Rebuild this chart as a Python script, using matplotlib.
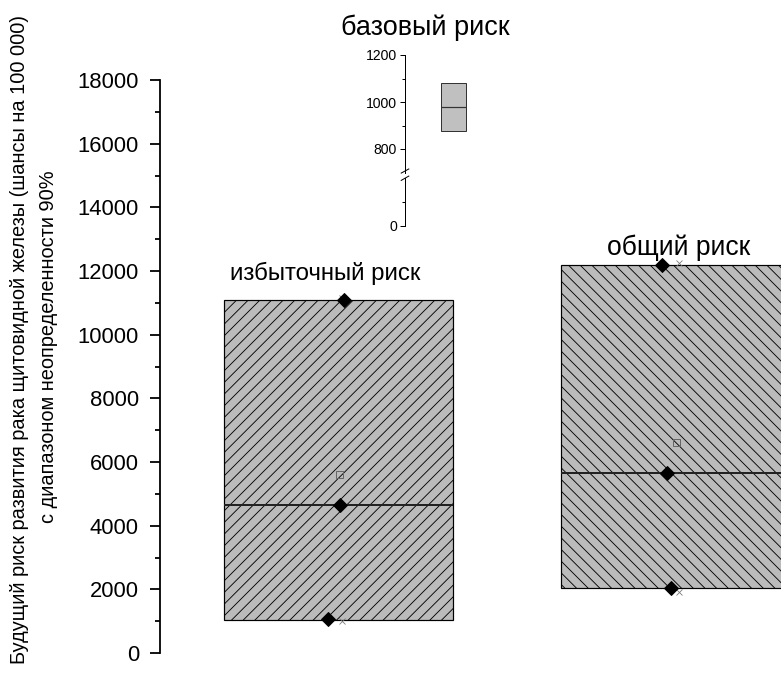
import matplotlib
matplotlib.use('Agg')
import matplotlib.pyplot as plt
from matplotlib.ticker import MultipleLocator, FixedLocator

plt.rcParams['font.family'] = ['Liberation Sans', 'DejaVu Sans']
plt.rcParams['hatch.linewidth'] = 0.9

# данные
groups = ['избыточный риск', 'общий риск']
box_low = [1040, 2040]
box_high = [11090, 12190]
box_median = [4650, 5655]
box_mean = [5620, 6630]
point_values = [[11090, 4650, 1070], [12190, 5650, 2040]]
point_shift = [[0.015, 0.005, -0.03], [-0.04, -0.025, -0.012]]
extreme_values = [[11150, 1005], [12250, 1915]]

base_title = 'базовый риск'
base_low = 877
base_high = 1081
base_median = 979

ylabel_1 = 'Будущий риск развития рака щитовидной железы (шансы на 100 000)'
ylabel_2 = 'с диапазоном неопределенности 90%'

# размеры в пикселях
W, H, DPI = 781, 673, 70


def pt(v):
    # пиксели -> пункты
    return v * 72 / DPI


def rect(left, top, right, bottom):
    return [left / W, 1 - bottom / H, (right - left) / W, (bottom - top) / H]


fig = plt.figure(figsize=(W / DPI, H / DPI), dpi=DPI)

# основная ось
ax = fig.add_axes(rect(160, 80, 781, 653))
ax.patch.set_alpha(0)
positions = [1, 2]
width = 0.68
hatches = ['//', '\\\\']
heights = [h - l for h, l in zip(box_high, box_low)]
bars = ax.bar(positions, heights, bottom=box_low, width=width, color='#bbbbbb',
              edgecolor='black', linewidth=pt(1.2), zorder=2)
for b, h in zip(bars, hatches):
    b.set_hatch(h)

for p, m in zip(positions, box_median):
    ax.hlines(m, p - width / 2, p + width / 2, color='#222222', linewidth=pt(2), zorder=3)

ax.plot(positions, box_mean, 's', mfc='none', mec='#666666', mew=pt(1), ms=pt(7), zorder=4)

for p, vals in zip(positions, extreme_values):
    ax.plot([p + 0.01] * len(vals), vals, 'x', color='#777777', ms=pt(6), mew=pt(0.8), zorder=4)

for p, vals, sh in zip(positions, point_values, point_shift):
    ax.plot([p + s for s in sh], vals, 'D', color='black', ms=pt(9.5), zorder=5)

ax.set_xlim(0.47, 2.313)
ax.set_ylim(0, 18000)
ax.yaxis.set_major_locator(MultipleLocator(2000))
ax.yaxis.set_minor_locator(MultipleLocator(1000))
for s in ['top', 'right', 'bottom']:
    ax.spines[s].set_visible(False)
ax.spines['left'].set_linewidth(pt(1.8))
ax.set_xticks([])
ax.tick_params(axis='y', which='major', direction='out', length=pt(10), width=pt(1.8),
               pad=pt(11), labelsize=pt(22))
ax.tick_params(axis='y', which='minor', direction='out', length=pt(5), width=pt(1.8))

# подписи групп
fig.text(325 / W, 1 - 280 / H, groups[0], ha='center', va='baseline', fontsize=pt(24))
fig.text(679 / W, 1 - 255 / H, groups[1], ha='center', va='baseline', fontsize=pt(26.5))
fig.text(425 / W, 1 - 35 / H, base_title, ha='center', va='baseline', fontsize=pt(27))

# вставка с разрывом оси
ax_top = fig.add_axes(rect(405, 55, 500, 172.5))
ax_bot = fig.add_axes(rect(405, 178, 500, 226))
for a in (ax_top, ax_bot):
    a.patch.set_alpha(0)
    for s in ['top', 'right', 'bottom']:
        a.spines[s].set_visible(False)
    a.spines['left'].set_linewidth(pt(1))
    a.set_xticks([])
    a.set_xlim(0, 1)
    a.tick_params(axis='y', which='major', direction='out', length=pt(5), width=pt(1),
                  pad=pt(3), labelsize=pt(14))
    a.tick_params(axis='y', which='minor', direction='out', length=pt(3), width=pt(1))

ax_top.set_ylim(700, 1200)
ax_top.yaxis.set_major_locator(FixedLocator([800, 1000, 1200]))
ax_top.yaxis.set_minor_locator(FixedLocator([900, 1100]))
ax_bot.set_ylim(0, 200)
ax_bot.yaxis.set_major_locator(FixedLocator([0]))
ax_bot.yaxis.set_minor_locator(FixedLocator([100]))

ax_top.bar([0.51], [base_high - base_low], bottom=[base_low], width=0.263, color='#c0c0c0',
           edgecolor='#333333', linewidth=pt(1))
ax_top.hlines(base_median, 0.51 - 0.1315, 0.51 + 0.1315, color='#333333', linewidth=pt(1.2))

# значки разрыва
kw = dict(color='black', linewidth=pt(1), clip_on=False)
ax_top.plot([-0.04, 0.04], [-0.005, 0.03], transform=ax_top.transAxes, **kw)
ax_bot.plot([-0.04, 0.04], [0.95, 1.04], transform=ax_bot.transAxes, **kw)

# подпись оси Y
fig.text(20 / W, 1 - 340 / H, ylabel_1, rotation=90, ha='center', va='center', fontsize=pt(20))
fig.text(49 / W, 1 - 347 / H, ylabel_2, rotation=90, ha='center', va='center', fontsize=pt(20))

fig.savefig('out.png', dpi=DPI)
